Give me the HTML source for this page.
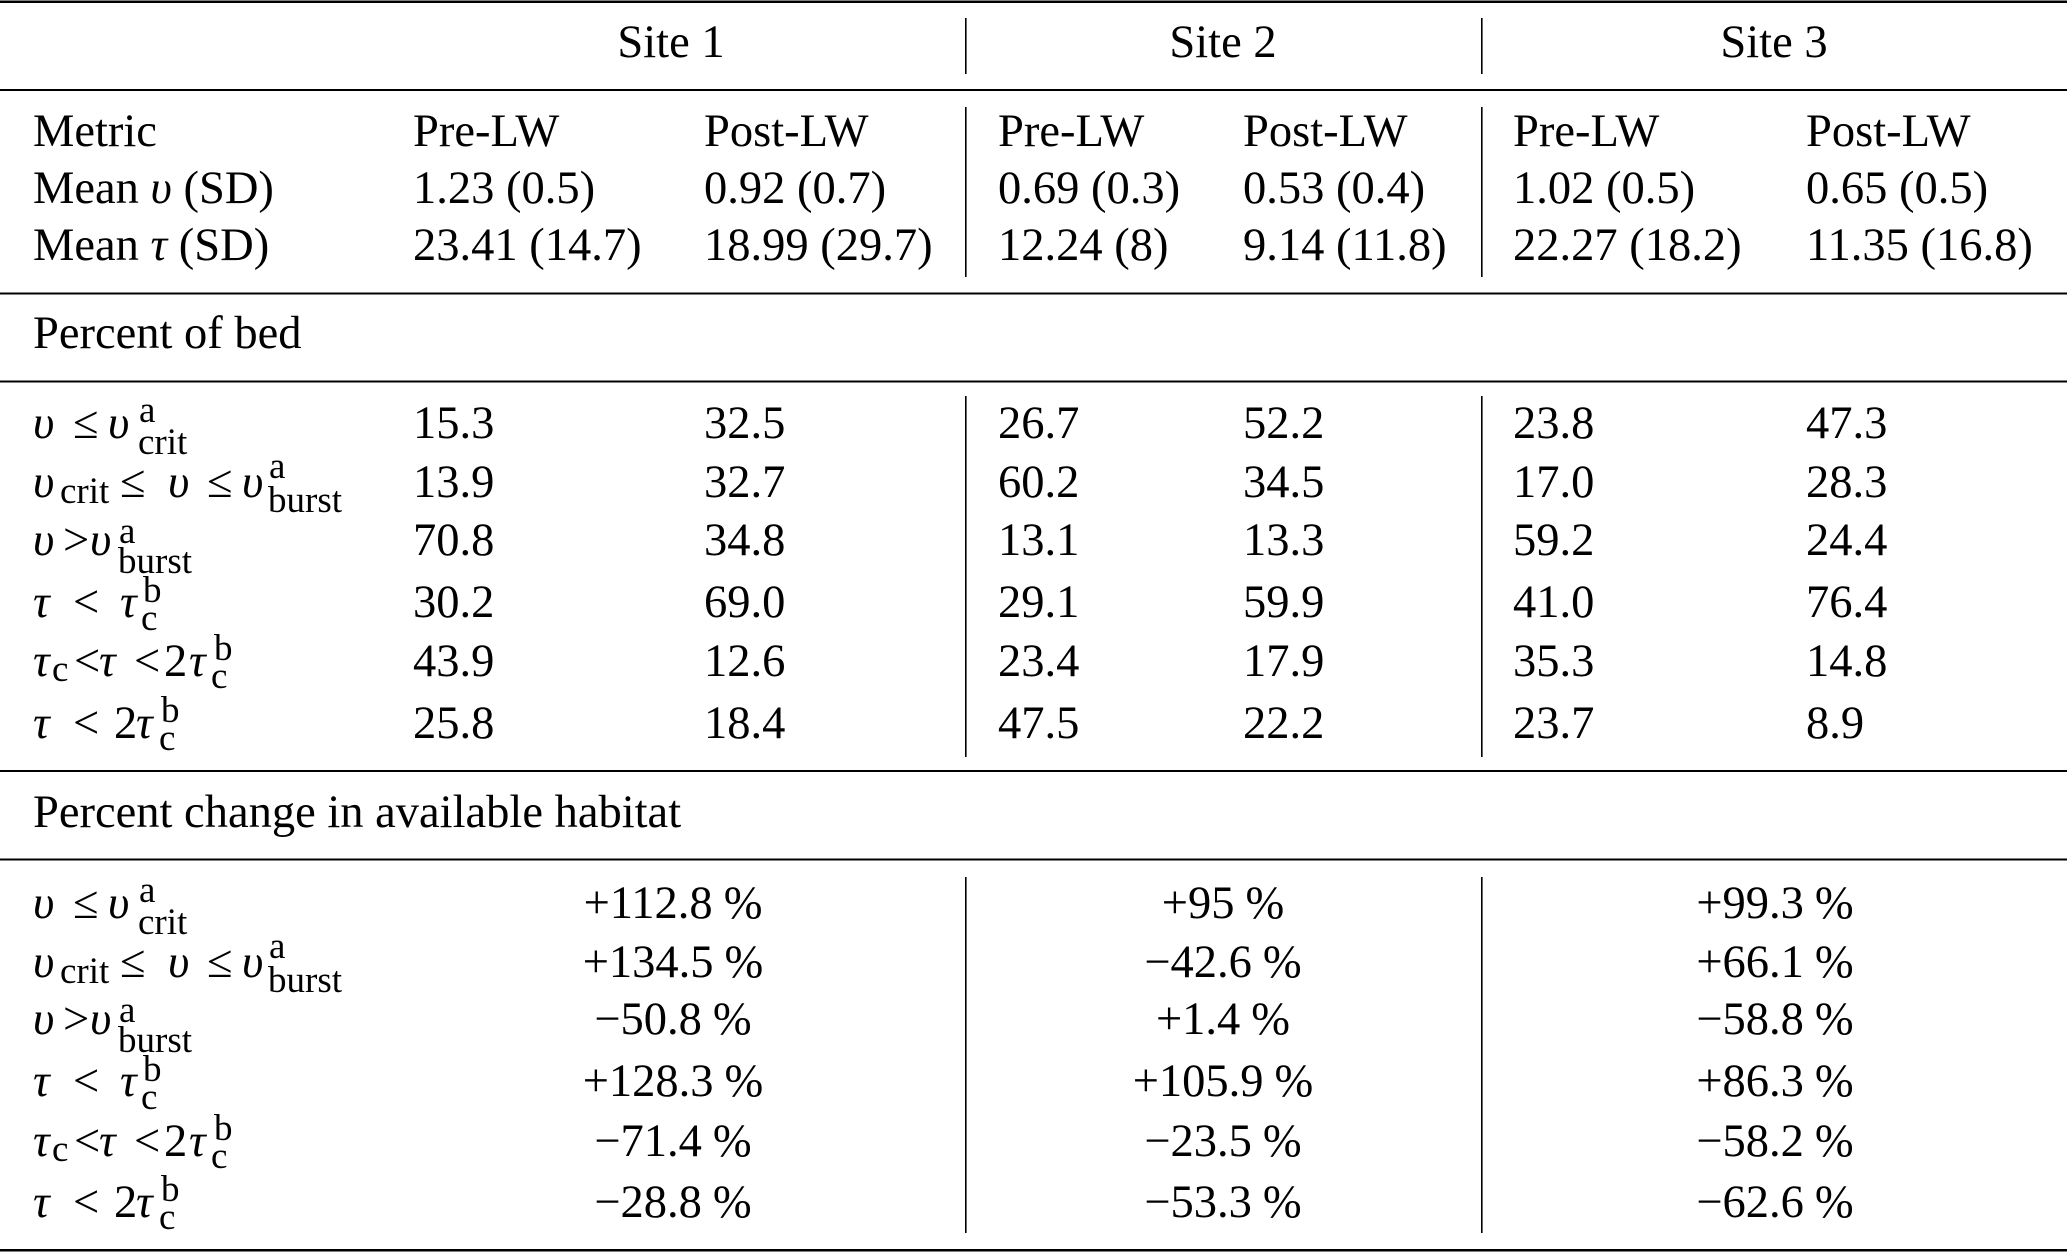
<!DOCTYPE html>
<html>
<head>
<meta charset="utf-8">
<style>
html,body{margin:0;padding:0;background:#fff;width:2067px;height:1252px;overflow:hidden}
svg{display:block}
text{font-family:"Liberation Serif","DejaVu Serif",serif;font-size:46.5px;fill:#000}
.s{font-size:37px}
.i{font-style:italic}
.m{text-anchor:middle}
</style>
</head>
<body>
<svg width="2067" height="1252" viewBox="0 0 2067 1252" xmlns="http://www.w3.org/2000/svg">
<!-- horizontal rules -->
<rect x="0" y="0.5" width="2067" height="2.5" fill="#000"/>
<rect x="0" y="89" width="2067" height="2" fill="#000"/>
<rect x="0" y="292.5" width="2067" height="2" fill="#000"/>
<rect x="0" y="380.5" width="2067" height="2" fill="#000"/>
<rect x="0" y="770" width="2067" height="2" fill="#000"/>
<rect x="0" y="858.5" width="2067" height="2" fill="#000"/>
<rect x="0" y="1249" width="2067" height="2.5" fill="#000"/>

<!-- vertical separators -->
<rect x="965" y="18" width="1.6" height="56" fill="#000"/>
<rect x="1481" y="18" width="1.6" height="56" fill="#000"/>
<rect x="965" y="107" width="1.6" height="170" fill="#000"/>
<rect x="1481" y="107" width="1.6" height="170" fill="#000"/>
<rect x="965" y="396" width="1.6" height="361" fill="#000"/>
<rect x="1481" y="396" width="1.6" height="361" fill="#000"/>
<rect x="965" y="877" width="1.6" height="356" fill="#000"/>
<rect x="1481" y="877" width="1.6" height="356" fill="#000"/>

<!-- header -->
<text class="m" x="671" y="57">Site 1</text>
<text class="m" x="1223" y="57">Site 2</text>
<text class="m" x="1774" y="57">Site 3</text>

<!-- section 1 -->
<text x="33" y="146">Metric</text>
<text x="413" y="146">Pre-LW</text>
<text x="704" y="146">Post-LW</text>
<text x="998" y="146">Pre-LW</text>
<text x="1243" y="146">Post-LW</text>
<text x="1513" y="146">Pre-LW</text>
<text x="1806" y="146">Post-LW</text>

<text x="33" y="203">Mean <tspan class="i">υ</tspan> (SD)</text>
<text x="413" y="203">1.23 (0.5)</text>
<text x="704" y="203">0.92 (0.7)</text>
<text x="998" y="203">0.69 (0.3)</text>
<text x="1243" y="203">0.53 (0.4)</text>
<text x="1513" y="203">1.02 (0.5)</text>
<text x="1806" y="203">0.65 (0.5)</text>

<text x="33" y="260">Mean <tspan class="i">τ</tspan> (SD)</text>
<text x="413" y="260">23.41 (14.7)</text>
<text x="704" y="260">18.99 (29.7)</text>
<text x="998" y="260">12.24 (8)</text>
<text x="1243" y="260">9.14 (11.8)</text>
<text x="1513" y="260">22.27 (18.2)</text>
<text x="1806" y="260">11.35 (16.8)</text>

<text x="33" y="348">Percent of bed</text>

<!-- section 2 labels -->
<g transform="translate(0,438)">
  <text class="i" x="33" y="0">υ</text><text x="73" y="0">≤</text><text class="i" x="108" y="0">υ</text>
  <text class="s" x="139" y="-16">a</text><text class="s" x="138" y="16">crit</text>
</g>
<g transform="translate(0,497)">
  <text class="i" x="33" y="0">υ</text><text class="s" x="60" y="6">crit</text>
  <text x="120" y="0">≤</text><text class="i" x="168" y="0">υ</text><text x="207" y="0">≤</text><text class="i" x="242" y="0">υ</text>
  <text class="s" x="269" y="-19">a</text><text class="s" x="268" y="15">burst</text>
</g>
<g transform="translate(0,555)">
  <text class="i" x="33" y="0">υ</text><text x="63" y="0">&gt;</text><text class="i" x="90" y="0">υ</text>
  <text class="s" x="119" y="-12">a</text><text class="s" x="118" y="18">burst</text>
</g>
<g transform="translate(0,617)">
  <text class="i" x="33" y="0">τ</text><text x="73" y="0">&lt;</text><text class="i" x="120" y="0">τ</text>
  <text class="s" x="143" y="-15">b</text><text class="s" x="141" y="13">c</text>
</g>
<g transform="translate(0,676)">
  <text class="i" x="33" y="0">τ</text><text class="s" x="52" y="5">c</text>
  <text x="74" y="0">&lt;</text><text class="i" x="99" y="0">τ</text><text x="134" y="0">&lt;</text>
  <text x="164" y="0">2</text><text class="i" x="189" y="0">τ</text>
  <text class="s" x="214" y="-16">b</text><text class="s" x="211" y="12">c</text>
</g>
<g transform="translate(0,738)">
  <text class="i" x="33" y="0">τ</text><text x="73" y="0">&lt;</text><text x="114" y="0">2</text><text class="i" x="136" y="0">τ</text>
  <text class="s" x="161" y="-16">b</text><text class="s" x="159" y="12">c</text>
</g>

<!-- section 2 data -->
<text x="413" y="438">15.3</text><text x="704" y="438">32.5</text><text x="998" y="438">26.7</text><text x="1243" y="438">52.2</text><text x="1513" y="438">23.8</text><text x="1806" y="438">47.3</text>
<text x="413" y="497">13.9</text><text x="704" y="497">32.7</text><text x="998" y="497">60.2</text><text x="1243" y="497">34.5</text><text x="1513" y="497">17.0</text><text x="1806" y="497">28.3</text>
<text x="413" y="555">70.8</text><text x="704" y="555">34.8</text><text x="998" y="555">13.1</text><text x="1243" y="555">13.3</text><text x="1513" y="555">59.2</text><text x="1806" y="555">24.4</text>
<text x="413" y="617">30.2</text><text x="704" y="617">69.0</text><text x="998" y="617">29.1</text><text x="1243" y="617">59.9</text><text x="1513" y="617">41.0</text><text x="1806" y="617">76.4</text>
<text x="413" y="676">43.9</text><text x="704" y="676">12.6</text><text x="998" y="676">23.4</text><text x="1243" y="676">17.9</text><text x="1513" y="676">35.3</text><text x="1806" y="676">14.8</text>
<text x="413" y="738">25.8</text><text x="704" y="738">18.4</text><text x="998" y="738">47.5</text><text x="1243" y="738">22.2</text><text x="1513" y="738">23.7</text><text x="1806" y="738">8.9</text>

<text x="33" y="827">Percent change in available habitat</text>

<!-- section 3 labels -->
<g transform="translate(0,918)">
  <text class="i" x="33" y="0">υ</text><text x="73" y="0">≤</text><text class="i" x="108" y="0">υ</text>
  <text class="s" x="139" y="-16">a</text><text class="s" x="138" y="16">crit</text>
</g>
<g transform="translate(0,977)">
  <text class="i" x="33" y="0">υ</text><text class="s" x="60" y="6">crit</text>
  <text x="120" y="0">≤</text><text class="i" x="168" y="0">υ</text><text x="207" y="0">≤</text><text class="i" x="242" y="0">υ</text>
  <text class="s" x="269" y="-19">a</text><text class="s" x="268" y="15">burst</text>
</g>
<g transform="translate(0,1034)">
  <text class="i" x="33" y="0">υ</text><text x="63" y="0">&gt;</text><text class="i" x="90" y="0">υ</text>
  <text class="s" x="119" y="-12">a</text><text class="s" x="118" y="18">burst</text>
</g>
<g transform="translate(0,1096)">
  <text class="i" x="33" y="0">τ</text><text x="73" y="0">&lt;</text><text class="i" x="120" y="0">τ</text>
  <text class="s" x="143" y="-15">b</text><text class="s" x="141" y="13">c</text>
</g>
<g transform="translate(0,1156)">
  <text class="i" x="33" y="0">τ</text><text class="s" x="52" y="5">c</text>
  <text x="74" y="0">&lt;</text><text class="i" x="99" y="0">τ</text><text x="134" y="0">&lt;</text>
  <text x="164" y="0">2</text><text class="i" x="189" y="0">τ</text>
  <text class="s" x="214" y="-16">b</text><text class="s" x="211" y="12">c</text>
</g>
<g transform="translate(0,1217)">
  <text class="i" x="33" y="0">τ</text><text x="73" y="0">&lt;</text><text x="114" y="0">2</text><text class="i" x="136" y="0">τ</text>
  <text class="s" x="161" y="-16">b</text><text class="s" x="159" y="12">c</text>
</g>

<!-- section 3 data -->
<text class="m" x="673" y="918">+112.8<tspan dx="11">%</tspan></text>
<text class="m" x="1223" y="918">+95<tspan dx="11">%</tspan></text>
<text class="m" x="1775" y="918">+99.3<tspan dx="11">%</tspan></text>

<text class="m" x="673" y="977">+134.5<tspan dx="11">%</tspan></text>
<text class="m" x="1223" y="977">−42.6<tspan dx="11">%</tspan></text>
<text class="m" x="1775" y="977">+66.1<tspan dx="11">%</tspan></text>

<text class="m" x="673" y="1034">−50.8<tspan dx="11">%</tspan></text>
<text class="m" x="1223" y="1034">+1.4<tspan dx="11">%</tspan></text>
<text class="m" x="1775" y="1034">−58.8<tspan dx="11">%</tspan></text>

<text class="m" x="673" y="1096">+128.3<tspan dx="11">%</tspan></text>
<text class="m" x="1223" y="1096">+105.9<tspan dx="11">%</tspan></text>
<text class="m" x="1775" y="1096">+86.3<tspan dx="11">%</tspan></text>

<text class="m" x="673" y="1156">−71.4<tspan dx="11">%</tspan></text>
<text class="m" x="1223" y="1156">−23.5<tspan dx="11">%</tspan></text>
<text class="m" x="1775" y="1156">−58.2<tspan dx="11">%</tspan></text>

<text class="m" x="673" y="1217">−28.8<tspan dx="11">%</tspan></text>
<text class="m" x="1223" y="1217">−53.3<tspan dx="11">%</tspan></text>
<text class="m" x="1775" y="1217">−62.6<tspan dx="11">%</tspan></text>
</svg>
</body>
</html>
